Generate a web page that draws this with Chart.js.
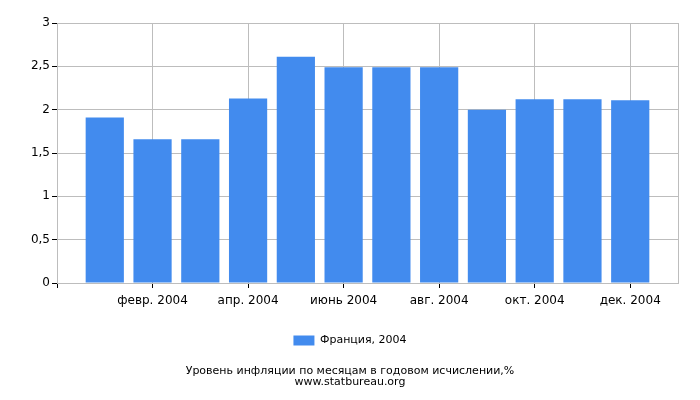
<!DOCTYPE html>
<html>
<head>
<meta charset="utf-8">
<script src="https://cdn.jsdelivr.net/npm/chart.js@4/dist/chart.umd.min.js"></script>
<style>
  html, body { margin: 0; padding: 0; background: #fff; }
  #wrap { width: 700px; height: 400px; }
</style>
</head>
<body>
<div id="wrap"><canvas id="chart" width="700" height="400"></canvas></div>
<script>
const months = ['янв. 2004', 'февр. 2004', 'март 2004', 'апр. 2004', 'май 2004', 'июнь 2004',
  'июль 2004', 'авг. 2004', 'сент. 2004', 'окт. 2004', 'нояб. 2004', 'дек. 2004'];
const inflation = [1.91, 1.66, 1.66, 2.13, 2.61, 2.49, 2.49, 2.49, 2.00, 2.12, 2.12, 2.11];
const seriesName = 'Франция, 2004';
const titleLines = ['Уровень инфляции по месяцам в годовом исчислении,%', 'www.statbureau.org'];

// empty slot before January and after December, like the original axis
const labels = ['', ...months, ''];
const values = [null, ...inflation, null];

const FONT = 'DejaVu Sans';
const GRID = '#bdbdbd';

function shownTick(i) {
  return i % 2 === 0 && i > 0 && i < labels.length - 1;
}

new Chart(document.getElementById('chart').getContext('2d'), {
  type: 'bar',
  data: {
    labels,
    datasets: [
      {
        label: seriesName,
        data: values,
        backgroundColor: '#428bee',
        borderWidth: 0,
        barPercentage: 0.8,
        categoryPercentage: 1,
      },
    ],
  },
  options: {
    responsive: false,
    animation: false,
    layout: { padding: { top: 23, right: 0, left: 0, bottom: 0 } },
    plugins: {
      tooltip: { enabled: false },
      legend: {
        position: 'bottom',
        labels: {
          boxWidth: 21,
          boxHeight: 10,
          padding: 10,
          color: '#000',
          font: { family: FONT, size: 11 },
        },
      },
      title: {
        display: true,
        position: 'bottom',
        text: titleLines,
        color: '#000',
        font: { family: FONT, size: 11, weight: 'normal', lineHeight: 1.0 },
        padding: { top: 10, bottom: 12 },
      },
    },
    scales: {
      x: {
        offset: false,
        grid: {
          offset: false,
          color: (ctx) => (shownTick(ctx.index) || ctx.index === labels.length - 1 ? GRID : 'transparent'),
          tickColor: (ctx) => (shownTick(ctx.index) || ctx.index === 0 ? '#000' : 'transparent'),
          tickLength: 5,
        },
        border: { color: GRID },
        ticks: {
          autoSkip: false,
          maxRotation: 0,
          color: '#000',
          padding: 6,
          font: { family: FONT, size: 12 },
          callback: (v, i) => (shownTick(i) ? labels[i] : ''),
        },
        afterFit: (scale) => {
          scale.height = 42;
        },
      },
      y: {
        min: 0,
        max: 3,
        grid: { color: GRID, tickColor: '#000', tickLength: 5 },
        border: { color: GRID },
        ticks: {
          stepSize: 0.5,
          color: '#000',
          padding: 2,
          font: { family: FONT, size: 12 },
          callback: (v) => v.toString().replace('.', ','),
        },
        afterFit: (scale) => {
          scale.width = 57;
        },
      },
      // empty right-hand axis: keeps the right margin without shifting legend/title
      yRight: {
        position: 'right',
        min: 0,
        max: 3,
        grid: { display: false },
        border: { display: false },
        ticks: { display: false },
        afterFit: (scale) => {
          scale.width = 22;
        },
      },
    },
  },
});
</script>
</body>
</html>
